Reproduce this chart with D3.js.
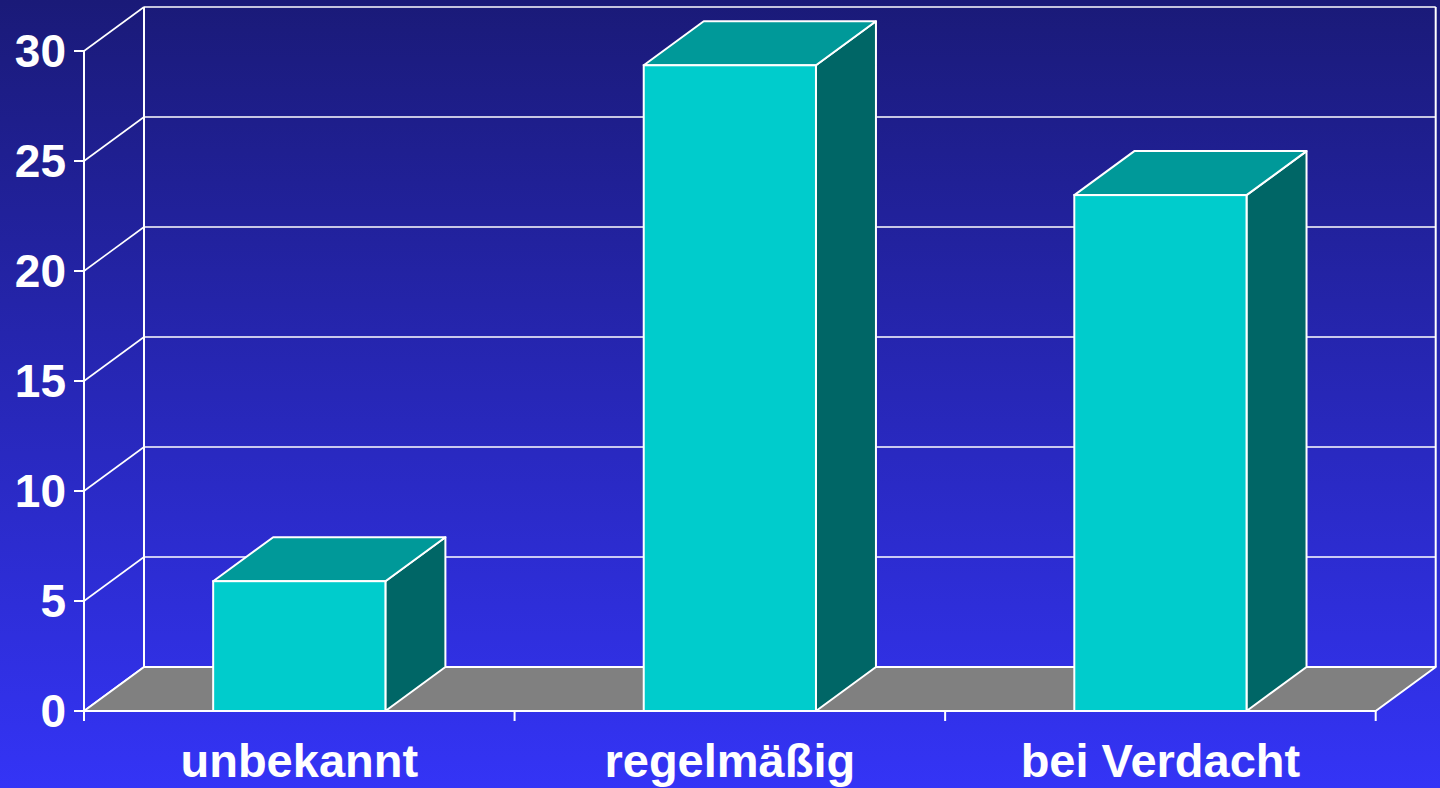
<!DOCTYPE html>
<html>
<head>
<meta charset="utf-8">
<script src="https://cdn.jsdelivr.net/npm/d3@7"></script>
<style>
  html, body { margin: 0; padding: 0; overflow: hidden; background: #2a2ad0; }
  svg { display: block; }
</style>
</head>
<body>
<svg id="chart" width="1440" height="788"></svg>
<script>
const categories = ["unbekannt", "regelmäßig", "bei Verdacht"];
const values = [5.9, 29.35, 23.45];
const yTicks = [0, 5, 10, 15, 20, 25, 30];

const W = 1440, H = 788;
const svg = d3.select("#chart");
const DX = 60, DY = -44;

const defs = svg.append("defs");
const grad = defs.append("linearGradient").attr("id", "bg")
  .attr("x1", 0).attr("y1", 0).attr("x2", 0).attr("y2", 1);
grad.append("stop").attr("offset", "0%").attr("stop-color", "#1a1a78");
grad.append("stop").attr("offset", "100%").attr("stop-color", "#3434f6");
svg.append("rect").attr("width", W).attr("height", H).attr("fill", "url(#bg)");

const y = d3.scaleLinear().domain([0, 30]).range([711, 51]);
const x = d3.scaleBand().domain(categories).range([84, 1375.7]).padding(0);
const bw = x.bandwidth() * 0.4;
const x0 = 84, x1 = 1375.7;

const g = svg.append("g");
const white = "#ffffff";

// back wall gridlines
g.selectAll("line.grid").data(yTicks).join("line")
  .attr("x1", x0 + DX).attr("x2", x1 + DX)
  .attr("y1", d => y(d) + DY).attr("y2", d => y(d) + DY)
  .attr("stroke", white).attr("stroke-width", 1.6);
// side wall diagonals
g.selectAll("line.diag").data(yTicks).join("line")
  .attr("x1", x0).attr("y1", d => y(d))
  .attr("x2", x0 + DX).attr("y2", d => y(d) + DY)
  .attr("stroke", white).attr("stroke-width", 1.6);
// back wall verticals
[x0 + DX, x1 + DX].forEach(xx => {
  g.append("line").attr("x1", xx).attr("x2", xx)
    .attr("y1", y(30) + DY).attr("y2", y(0) + DY)
    .attr("stroke", white).attr("stroke-width", 2);
});

// floor
g.append("polygon")
  .attr("points", [[x0, y(0)], [x1, y(0)], [x1 + DX, y(0) + DY], [x0 + DX, y(0) + DY]].map(p => p.join(",")).join(" "))
  .attr("fill", "#808080").attr("stroke", white).attr("stroke-width", 2).attr("stroke-linejoin", "round");

// bars
const data = categories.map((c, i) => ({ c, v: values[i] }));
const bars = g.selectAll("g.bar").data(data).join("g").attr("class", "bar");
bars.each(function(d) {
  const sel = d3.select(this);
  const bx = x(d.c) + (x.bandwidth() - bw) / 2;
  const yt = y(d.v), yb = y(0);
  const pts = a => a.map(p => p.join(",")).join(" ");
  sel.append("polygon")
    .attr("points", pts([[bx + bw, yt], [bx + bw + DX, yt + DY], [bx + bw + DX, yb + DY], [bx + bw, yb]]))
    .attr("fill", "#006666").attr("stroke", white).attr("stroke-width", 2).attr("stroke-linejoin", "round");
  sel.append("polygon")
    .attr("points", pts([[bx, yt], [bx + DX, yt + DY], [bx + bw + DX, yt + DY], [bx + bw, yt]]))
    .attr("fill", "#009999").attr("stroke", white).attr("stroke-width", 2).attr("stroke-linejoin", "round");
  sel.append("rect")
    .attr("x", bx).attr("y", yt).attr("width", bw).attr("height", yb - yt)
    .attr("fill", "#00cccc").attr("stroke", white).attr("stroke-width", 2);
});

// front axes
g.append("line").attr("x1", x0).attr("x2", x0).attr("y1", y(30)).attr("y2", 721)
  .attr("stroke", white).attr("stroke-width", 2);
g.append("line").attr("x1", x0).attr("x2", x1).attr("y1", y(0)).attr("y2", y(0))
  .attr("stroke", white).attr("stroke-width", 2);
g.selectAll("line.ytick").data(yTicks).join("line")
  .attr("x1", x0 - 10).attr("x2", x0).attr("y1", d => y(d)).attr("y2", d => y(d))
  .attr("stroke", white).attr("stroke-width", 2);
const xBounds = categories.map(c => x(c) + x.bandwidth());
g.selectAll("line.xtick").data(xBounds).join("line")
  .attr("x1", d => d).attr("x2", d => d).attr("y1", y(0)).attr("y2", 721)
  .attr("stroke", white).attr("stroke-width", 2);

// y labels
g.selectAll("text.ylab").data(yTicks).join("text")
  .attr("x", 66).attr("y", d => y(d))
  .attr("text-anchor", "end").attr("dominant-baseline", "central")
  .attr("font-family", "Liberation Sans, Arial, sans-serif").attr("font-weight", "bold")
  .attr("font-size", 46).attr("fill", white)
  .text(d => d);

// category labels
g.selectAll("text.xlab").data(categories).join("text")
  .attr("x", d => x(d) + x.bandwidth() / 2).attr("y", 777)
  .attr("text-anchor", "middle")
  .attr("font-family", "Liberation Sans, Arial, sans-serif").attr("font-weight", "bold")
  .attr("font-size", 47).attr("fill", white)
  .text(d => d);
</script>
</body>
</html>
